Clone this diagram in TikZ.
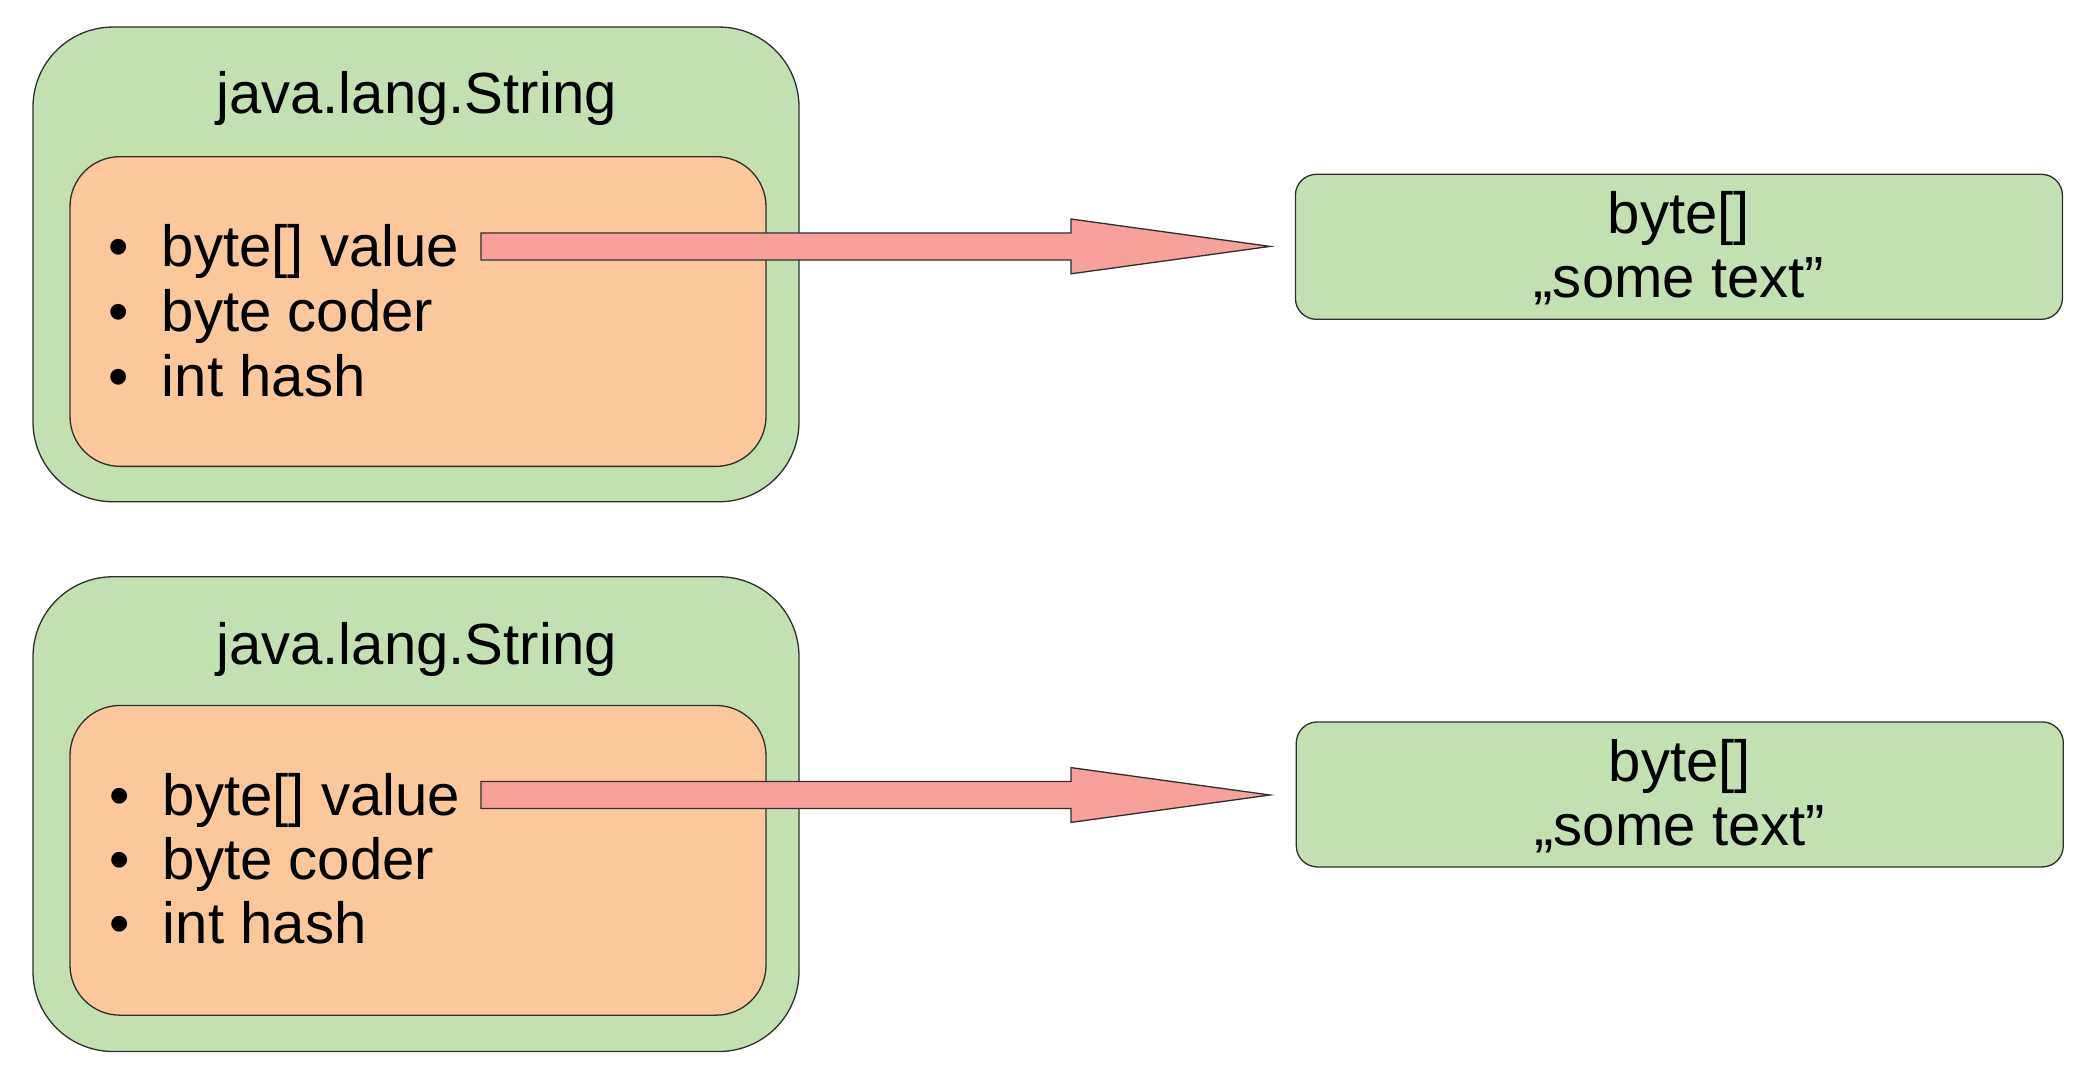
\documentclass[tikz,border=0pt]{standalone}
\usepackage{fontspec}
\setmainfont{Liberation Sans}
\usetikzlibrary{calc}
\definecolor{boxgreen}{HTML}{C3E0B0}
\definecolor{fieldorange}{HTML}{FBC79B}
\definecolor{arrowpink}{HTML}{F7A19A}
\definecolor{edgegray}{HTML}{2E2E2E}
\tikzset{
  outerbox/.style={draw=edgegray, line width=1.3pt, fill=boxgreen, rounded corners=80pt, inner sep=0pt, minimum width=766pt, minimum height=474.7pt},
  innerbox/.style={draw=edgegray, line width=1.3pt, fill=fieldorange, rounded corners=50pt, inner sep=0pt, minimum width=696pt, minimum height=309.7pt},
  valuebox/.style={draw=edgegray, line width=1.3pt, fill=boxgreen, rounded corners=21pt, inner sep=0pt, minimum width=767pt, minimum height=145pt},
  blockarrow/.style={draw=edgegray, line width=1.3pt, fill=arrowpink, line join=miter},
  label/.style={inner sep=0pt, outer sep=0pt, font=\fontsize{58.1}{64.5}\selectfont},
}
\newcommand{\bulletitem}[1]{\makebox[54pt][l]{•}#1}
\begin{document}
\begin{tikzpicture}[x=1pt,y=-1pt]
\useasboundingbox[fill=white] (0,0) rectangle (2100,1080);

% ---- top group ----
\node[outerbox] (outerA) at (416,264.4) {};
\node[label, anchor=base] (titleA) at (416.5,113.6) {java.lang.String};
\node[innerbox] (innerA) at (418,311.5) {};
\node[label, anchor=base west] (fieldA1) at (108,266.9) {\bulletitem{byte[] value}};
\node[label, anchor=base west] (fieldA2) at (108,331.6) {\bulletitem{byte coder}};
\node[label, anchor=base west] (fieldA3) at (108,396.2) {\bulletitem{int hash}};
\node[valuebox] (valueA) at (1678.9,246.8) {};
\node[label, anchor=base] (valueA1) at (valueA.center |- 0,233.8) {byte[]};
\node[label, anchor=base] (valueA2) at (valueA.center |- 0,297.8) {„some text”};
\coordinate (arrAs) at (481,246.4);
\coordinate (arrAt) at (1270,246.4);
\draw[blockarrow] ($(arrAs)+(0,-13.5)$) -- ($(arrAt)+(-199,-13.5)$) -- ($(arrAt)+(-199,-27.4)$) -- (arrAt)
  -- ($(arrAt)+(-199,27.4)$) -- ($(arrAt)+(-199,13.5)$) -- ($(arrAs)+(0,13.5)$) -- cycle;

% ---- bottom group ----
\node[outerbox] (outerB) at (416,814.1) {};
\node[label, anchor=base] (titleB) at (416.5,664.7) {java.lang.String};
\node[innerbox] (innerB) at (418,860.3) {};
\node[label, anchor=base west] (fieldB1) at (109,815.5) {\bulletitem{byte[] value}};
\node[label, anchor=base west] (fieldB2) at (109,879.6) {\bulletitem{byte coder}};
\node[label, anchor=base west] (fieldB3) at (109,943.8) {\bulletitem{int hash}};
\node[valuebox] (valueB) at (1679.8,794.4) {};
\node[label, anchor=base] (valueB1) at (valueB.center |- 0,781.5) {byte[]};
\node[label, anchor=base] (valueB2) at (valueB.center |- 0,845.5) {„some text”};
\coordinate (arrBs) at (481,795.0);
\coordinate (arrBt) at (1270,795.0);
\draw[blockarrow] ($(arrBs)+(0,-13.5)$) -- ($(arrBt)+(-199,-13.5)$) -- ($(arrBt)+(-199,-27.4)$) -- (arrBt)
  -- ($(arrBt)+(-199,27.4)$) -- ($(arrBt)+(-199,13.5)$) -- ($(arrBs)+(0,13.5)$) -- cycle;
\end{tikzpicture}
\end{document}
